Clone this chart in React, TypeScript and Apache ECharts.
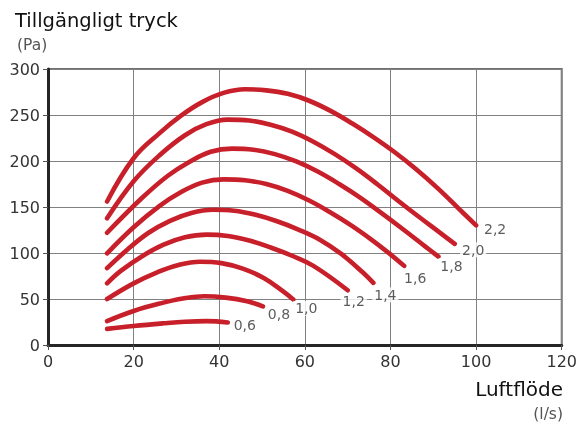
import React, { useEffect, useRef } from "react";
import * as echarts from "echarts";

const curveNames = ["0,6", "0,8", "1,0", "1,2", "1,4", "1,6", "1,8", "2,0", "2,2"];

const x06 = [13.8, 20, 27, 32, 37, 42];
const y06 = [17.5, 20.7, 23.6, 25.3, 26, 24.4];
const x08 = [13.8, 20, 26.5, 31.5, 36.5, 41.5, 46.5, 50.2];
const y08 = [26, 37, 45.5, 50.5, 53, 51.5, 47.5, 42];
const x10 = [13.8, 20, 25.5, 30.5, 35.5, 40.5, 45.5, 50.5, 55, 57.3];
const y10 = [50, 67, 79, 87, 90.5, 89, 83, 72.5, 58, 49.5];
const x12 = [13.8, 17, 22, 27, 32, 37, 42, 47, 52, 57, 62, 70];
const y12 = [67, 80.5, 96.5, 109, 117, 120, 118.5, 113.5, 106, 97, 86, 59.5];
const x14 = [13.8, 18.5, 23.5, 28.5, 33.5, 38.5, 43.5, 48.5, 53.5, 58.5, 63.5, 68.5, 73.5, 76];
const y14 = [83.5, 103.5, 122, 135, 143.5, 147, 146, 141.5, 134.5, 125.5, 114.5, 99, 79, 67.5];
const x16 = [13.8, 20, 26, 31, 36, 41, 46, 51, 56, 61, 66, 71, 76, 80, 83.2];
const y16 = [99.6, 128, 151, 166, 176.5, 180, 179, 175, 167.5, 157, 144, 129.5, 113, 98.5, 86];
const x18 = [13.8, 22, 28, 33, 38, 43, 48, 53, 58, 63, 68, 73, 78, 83, 88, 91.2];
const y18 = [122, 160, 184, 199, 210, 213.5, 212.3, 207.5, 199.5, 188.5, 175, 160, 143, 125.5, 107.5, 96];
const x20 = [13.8, 20, 26, 32, 37, 42, 47, 52, 57, 62, 67, 72, 77, 82, 87, 91, 95];
const y20 = [137.7, 178, 206, 228, 240, 245, 244, 239.5, 232, 221, 207.5, 192, 174.5, 156, 138, 124, 110];
const x22 = [13.8, 20, 26, 31, 36, 41, 46, 51, 56, 61, 66, 71, 76, 81, 86, 91, 96, 100];
const y22 = [156, 203, 230, 249, 264, 274, 278, 276.8, 273, 265.5, 254.5, 241, 226, 209.5, 191, 170.5, 148, 130];

const curvesX = [x06, x08, x10, x12, x14, x16, x18, x20, x22];
const curvesY = [y06, y08, y10, y12, y14, y16, y18, y20, y22];

const xTicks = [0, 20, 40, 60, 80, 100, 120];
const yTicks = [0, 50, 100, 150, 200, 250, 300];

// label offsets (px) from curve end to label centre
const labelOffsets = [
  [17, 2],
  [16, 8],
  [13, 9],
  [6, 11],
  [12, 12],
  [11, 12.5],
  [13, 9],
  [18.5, 6],
  [19, 3.5],
];

const RED = "#c8202b";
const FONT = "'DejaVu Sans', sans-serif";

export default function App() {
  const ref = useRef<HTMLDivElement>(null);
  useEffect(() => {
    if (!ref.current) return;
    document.body.style.margin = "0";
    document.body.style.overflow = "hidden";
    const chart = echarts.init(ref.current, undefined, { renderer: "svg" });
    const lineSeries = curveNames.map((name, i) => ({
      type: "line",
      name,
      data: curvesX[i].map((x, j) => [x, curvesY[i][j]]),
      smooth: 0.4,
      showSymbol: false,
      symbol: "none",
      lineStyle: { color: RED, width: 4.6, cap: "round", join: "round" },
      z: 3,
    }));
    const labelSeries = {
      type: "scatter",
      symbolSize: 1,
      itemStyle: { color: "rgba(0,0,0,0)" },
      z: 4,
      data: curveNames.map((name, i) => {
        const n = curvesX[i].length;
        return {
          value: [curvesX[i][n - 1], curvesY[i][n - 1]],
          name,
          label: {
            show: true,
            formatter: name,
            position: "inside",
            align: "center",
            verticalAlign: "middle",
            offset: labelOffsets[i],
            color: "#333",
            fontSize: 14,
            fontFamily: FONT,
            backgroundColor: "#fff",
            padding: [1, 2, 0, 2],
          },
        };
      }),
    };
    chart.setOption({
      animation: false,
      grid: {
        left: 48,
        right: 17,
        top: 69,
        bottom: 80,
        show: true,
        borderColor: "#707070",
        borderWidth: 2,
        backgroundColor: "transparent",
      },
      xAxis: {
        type: "value",
        min: xTicks[0],
        max: xTicks[xTicks.length - 1],
        interval: 20,
        axisLine: { show: true, lineStyle: { color: "#262626", width: 3 } },
        axisTick: { show: true, length: 5, lineStyle: { color: "#555", width: 1 } },
        axisLabel: { color: "#333", fontSize: 16, fontFamily: FONT, margin: 8 },
        splitLine: { show: true, lineStyle: { color: "#808080", width: 1 } },
      },
      yAxis: {
        type: "value",
        min: yTicks[0],
        max: yTicks[yTicks.length - 1],
        interval: 50,
        axisLine: { show: true, lineStyle: { color: "#262626", width: 3 } },
        axisTick: { show: true, length: 5, lineStyle: { color: "#555", width: 1 } },
        axisLabel: { color: "#333", fontSize: 16, fontFamily: FONT, margin: 8 },
        splitLine: { show: true, lineStyle: { color: "#808080", width: 1 } },
      },
      graphic: [
        {
          type: "text",
          x: 15,
          y: 20,
          style: {
            text: "Tillgängligt tryck",
            font: `19.5px ${FONT}`,
            fill: "#111",
            textVerticalAlign: "middle",
          },
        },
        {
          type: "text",
          x: 17,
          y: 45,
          style: {
            text: "(Pa)",
            font: `15.5px ${FONT}`,
            fill: "#555",
            textVerticalAlign: "middle",
          },
        },
        {
          type: "text",
          x: 563,
          y: 389,
          style: {
            text: "Luftflöde",
            font: `20px ${FONT}`,
            fill: "#111",
            textAlign: "right",
            textVerticalAlign: "middle",
          },
        },
        {
          type: "text",
          x: 563,
          y: 414,
          style: {
            text: "(l/s)",
            font: `15.5px ${FONT}`,
            fill: "#555",
            textAlign: "right",
            textVerticalAlign: "middle",
          },
        },
      ],
      series: [...lineSeries, labelSeries],
    });
    return () => chart.dispose();
  }, []);
  return (
    <div
      ref={ref}
      style={{ position: "fixed", left: 0, top: 0, width: 580, height: 425 }}
    />
  );
}
